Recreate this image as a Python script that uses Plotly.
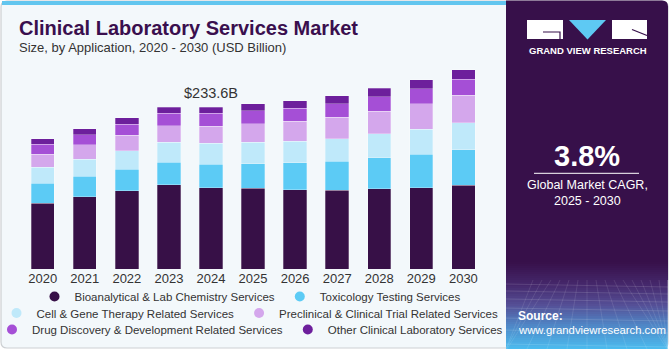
import plotly.graph_objects as go

W, H = 671, 350

years = ["2020", "2021", "2022", "2023", "2024", "2025", "2026", "2027", "2028", "2029", "2030"]
series_names = [
    "Bioanalytical & Lab Chemistry Services",
    "Toxicology Testing Services",
    "Cell & Gene Therapy Related Services",
    "Preclinical & Clinical Trial Related Services",
    "Drug Discovery & Development Related Services",
    "Other Clinical Laboratory Services",
]
bioanalytical = [95.2, 104.3, 112.9, 121.6, 117.7, 116.8, 114.4, 113.9, 116.2, 117.7, 121.1]
toxicology = [28.8, 29.3, 31.3, 32.7, 33.6, 35.5, 38.9, 41.8, 44.3, 47.6, 50.9]
cell_gene = [22.6, 24.5, 26.4, 28.8, 30.3, 30.9, 31.3, 32.2, 34.6, 36.6, 38.9]
preclinical = [19.2, 21.2, 22.1, 23.5, 24.1, 26.4, 28.3, 30.7, 32.7, 36.1, 39.4]
drug_discovery = [14.4, 14.4, 16.4, 18.3, 19.2, 18.7, 18.7, 19.8, 20.6, 21.6, 23.6]
other = [7.7, 8.7, 8.7, 8.7, 8.7, 10.1, 10.7, 11.1, 12.0, 13.0, 13.0]
colors = ["#371047", "#5ccbf5", "#bfe9fa", "#d4a7ec", "#a54fd6", "#6d1f9c"]
highlight_year = "2024"
highlight_label = "$233.6B"
cagr_text = "3.8%"

series = [bioanalytical, toxicology, cell_gene, preclinical, drug_discovery, other]
legend_ids = ["legend", "legend", "legend2", "legend2", "legend3", "legend3"]

FONT = "Liberation Sans"


def px(x):
    return x / W


def py(y):
    return 1 - y / H


fig = go.Figure()
for name, vals, col in zip(series_names, series, colors):
    fig.add_trace(go.Bar(
        x=years, y=vals, name=name, marker_color=col,
        marker_line=dict(color="rgba(255,255,255,0.35)", width=0.8),
        width=0.555, showlegend=False, hoverinfo="skip",
    ))
# legend-only entries (circle symbols) on a hidden helper axis pair
for name, col, lg in zip(series_names, colors, legend_ids):
    fig.add_trace(go.Scatter(
        x=[None], y=[None], mode="markers", name=name,
        marker=dict(color=col, size=10, symbol="circle"),
        legend=lg, showlegend=True, xaxis="x2", yaxis="y2",
    ))

idx = years.index(highlight_year)
total = sum(s[idx] for s in series)

shapes = []
r = 6
x0, x1, y0, y1 = 1, 668, 1, 348
path = (f"M {px(x0+r)},{py(y0)} L {px(x1-r)},{py(y0)} Q {px(x1)},{py(y0)} {px(x1)},{py(y0+r)} "
        f"L {px(x1)},{py(y1-r)} Q {px(x1)},{py(y1)} {px(x1-r)},{py(y1)} L {px(x0+r)},{py(y1)} "
        f"Q {px(x0)},{py(y1)} {px(x0)},{py(y1-r)} L {px(x0)},{py(y0+r)} Q {px(x0)},{py(y0)} {px(x0+r)},{py(y0)} Z")
shapes.append(dict(type="path", xref="paper", yref="paper", path=path,
                   fillcolor="#f3f8fb", line=dict(color="#cdd0d3", width=1.2), layer="below"))
shapes.append(dict(type="rect", xref="paper", yref="paper", x0=px(2), x1=px(506), y0=py(5), y1=py(1),
                   fillcolor="#62c6ef", line=dict(width=0), layer="below"))
pr = 6
X0, X1, Y0, Y1 = 506, 668, 0.5, 349
ppath = (f"M {px(X0)},{py(Y0)} L {px(X1-pr)},{py(Y0)} Q {px(X1)},{py(Y0)} {px(X1)},{py(Y0+pr)} "
         f"L {px(X1)},{py(Y1)} L {px(X0)},{py(Y1)} Z")
shapes.append(dict(type="path", xref="paper", yref="paper", path=ppath,
                   fillcolor="#37104a", line=dict(width=0), layer="below"))


def hex2rgb(h):
    h = h.lstrip("#")
    return tuple(int(h[i:i + 2], 16) for i in (0, 2, 4))


stops = [(262, "#37104a"), (285, "#45286c"), (305, "#554f96"), (325, "#4f86c6"), (349, "#4bbcef")]
step = 2
y = stops[0][0]
while y < 349:
    ym = y + step / 2
    for (ya, ca), (yb, cb) in zip(stops[:-1], stops[1:]):
        if ya <= ym <= yb:
            t = (ym - ya) / (yb - ya)
            a, b = hex2rgb(ca), hex2rgb(cb)
            c = tuple(round(a[i] + (b[i] - a[i]) * t) for i in range(3))
            break
    shapes.append(dict(type="rect", xref="paper", yref="paper", x0=px(X0), x1=px(X1),
                       y0=py(min(y + step, 349)), y1=py(y),
                       fillcolor="rgb(%d,%d,%d)" % c, line=dict(width=0), layer="below"))
    y += step
for gy in [284, 291, 299, 308, 318, 330, 344]:
    shapes.append(dict(type="line", xref="paper", yref="paper", x0=px(X0), x1=px(X1), y0=py(gy), y1=py(gy + 3),
                       line=dict(color="rgba(255,255,255,0.13)", width=1), layer="below"))
for k in range(-6, 14):
    xt = 587 + k * 9
    xb = 587 + k * 20
    shapes.append(dict(type="line", xref="paper", yref="paper", x0=px(max(min(xt, X1), X0)),
                       x1=px(max(min(xb, X1), X0)), y0=py(280), y1=py(349),
                       line=dict(color="rgba(255,255,255,0.10)", width=1), layer="below"))

# logo
shapes.append(dict(type="rect", xref="paper", yref="paper", x0=px(527), x1=px(563), y0=py(39), y1=py(20),
                   fillcolor="white", line=dict(width=0)))
shapes.append(dict(type="rect", xref="paper", yref="paper", x0=px(612), x1=px(647), y0=py(39), y1=py(20),
                   fillcolor="white", line=dict(width=0)))
shapes.append(dict(type="path", xref="paper", yref="paper",
                   path=f"M {px(569)},{py(20)} L {px(606)},{py(20)} L {px(587.5)},{py(39.5)} Z",
                   fillcolor="#5ec9f3", line=dict(width=0)))
shapes.append(dict(type="path", xref="paper", yref="paper",
                   path=f"M {px(543)},{py(32)} L {px(560)},{py(32)} L {px(560)},{py(39)}",
                   line=dict(color="#37104a", width=1.2)))
shapes.append(dict(type="path", xref="paper", yref="paper",
                   path=f"M {px(632)},{py(29.5)} L {px(647)},{py(35.5)}",
                   line=dict(color="#37104a", width=1.2)))
shapes.append(dict(type="line", xref="paper", yref="paper", x0=px(534), x1=px(639), y0=py(173.3), y1=py(173.3),
                   line=dict(color="white", width=1)))

annotations = [
    dict(text="<b>Clinical Laboratory Services Market</b>", x=px(17), y=py(28), xref="paper", yref="paper",
         xanchor="left", yanchor="middle", showarrow=False,
         font=dict(family=FONT, size=20, color="#3a0f4e")),
    dict(text="Size, by Application, 2020 - 2030 (USD Billion)", x=px(17), y=py(47.5), xref="paper", yref="paper",
         xanchor="left", yanchor="middle", showarrow=False,
         font=dict(family=FONT, size=13, color="#333333")),
    dict(text=highlight_label, x=idx, y=total, xref="x", yref="y", xanchor="center", yanchor="bottom",
         yshift=4, showarrow=False, font=dict(family=FONT, size=14.5, color="#333333")),
    dict(text="<b>GRAND VIEW RESEARCH</b>", x=px(587.5), y=py(50.7), xref="paper", yref="paper",
         xanchor="center", yanchor="middle", showarrow=False,
         font=dict(family=FONT, size=9.5, color="white")),
    dict(text="<b>" + cagr_text + "</b>", x=px(587), y=py(156), xref="paper", yref="paper",
         xanchor="center", yanchor="middle", showarrow=False,
         font=dict(family=FONT, size=29, color="white")),
    dict(text="Global Market CAGR,", x=px(587), y=py(185), xref="paper", yref="paper",
         xanchor="center", yanchor="middle", showarrow=False,
         font=dict(family=FONT, size=12.5, color="white")),
    dict(text="2025 - 2030", x=px(587), y=py(200.5), xref="paper", yref="paper",
         xanchor="center", yanchor="middle", showarrow=False,
         font=dict(family=FONT, size=12.5, color="white")),
    dict(text="<b>Source:</b>", x=px(516), y=py(315.5), xref="paper", yref="paper",
         xanchor="left", yanchor="middle", showarrow=False,
         font=dict(family=FONT, size=12, color="white")),
    dict(text="www.grandviewresearch.com", x=px(516), y=py(329.5), xref="paper", yref="paper",
         xanchor="left", yanchor="middle", showarrow=False,
         font=dict(family=FONT, size=11.3, color="white")),
]

leg_common = dict(orientation="h", xref="paper", yref="paper", x=px(250), xanchor="center",
                  yanchor="middle", bgcolor="rgba(0,0,0,0)", font=dict(family=FONT, size=11.5, color="#333333"),
                  itemwidth=30, tracegroupgap=0, traceorder="normal")

fig.update_layout(
    width=W, height=H,
    margin=dict(l=0, r=0, t=0, b=0, autoexpand=False),
    paper_bgcolor="white", plot_bgcolor="rgba(0,0,0,0)",
    barmode="stack", bargap=0.445,
    font=dict(family=FONT, color="#333333"),
    xaxis=dict(domain=[px(21.7), px(484.4)], type="category", categoryorder="array", categoryarray=years,
               range=[-0.5, len(years) - 0.5], showgrid=False, zeroline=False, automargin=False,
               showline=False, ticks="", tickfont=dict(family=FONT, size=13, color="#333333")),
    yaxis=dict(domain=[py(269.3), py(59.5)], range=[0, 302], visible=False, showgrid=False, automargin=False),
    xaxis2=dict(domain=[0, 0.01], anchor="y2", visible=False, range=[0, 1]),
    yaxis2=dict(domain=[0, 0.01], anchor="x2", visible=False, range=[0, 1]),
    legend=dict(y=py(296.5), **leg_common),
    legend2=dict(y=py(313), **leg_common),
    legend3=dict(y=py(329.5), **leg_common),
    shapes=shapes,
    annotations=annotations,
)

fig.write_html("out.html")
